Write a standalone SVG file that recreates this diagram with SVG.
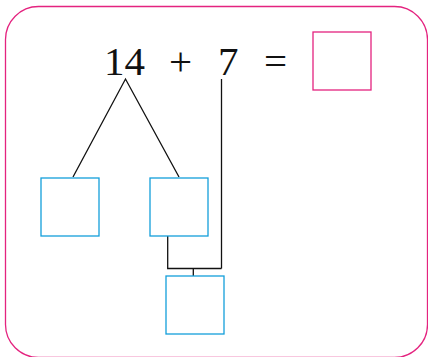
<svg xmlns="http://www.w3.org/2000/svg" width="428" height="357" viewBox="0 0 428 357">
<style>
.frame{fill:none;stroke:#e4237f;stroke-width:1.3}
.ans{fill:#fff;stroke:#e4237f;stroke-width:1.3}
.box{fill:#fff;stroke:#139fdb;stroke-width:1.3}
.ln{fill:none;stroke:#111;stroke-width:1.3;stroke-linejoin:miter}
.t{font-family:"Liberation Serif","Times New Roman",serif;font-size:41px;fill:#111}
</style>
<rect width="428" height="357" fill="#fff"/>
<rect class="frame" x="5.5" y="6.5" width="422" height="351" rx="33" ry="33"/>
<g id="equation">
<text class="t" x="104" y="75">14</text>
<text class="t" x="169" y="75">+</text>
<text class="t" x="218" y="75">7</text>
<text class="t" x="264" y="75">=</text>
</g>
<g id="answer"><rect class="ans" x="313" y="32" width="58" height="58"/></g>
<g id="connectors">
<polyline class="ln" points="73,177 125.5,79 179,177"/>
<line class="ln" x1="221.5" y1="79" x2="221.5" y2="268.5"/>
<polyline class="ln" points="167.7,236 167.7,268.5 221.5,268.5"/>
<line class="ln" x1="193.3" y1="268.5" x2="193.3" y2="276"/>
</g>
<g id="box-left"><rect class="box" x="41" y="178" width="58" height="58"/></g>
<g id="box-mid"><rect class="box" x="150" y="178" width="58" height="58"/></g>
<g id="box-bottom"><rect class="box" x="166" y="276" width="58" height="58"/></g>
</svg>
